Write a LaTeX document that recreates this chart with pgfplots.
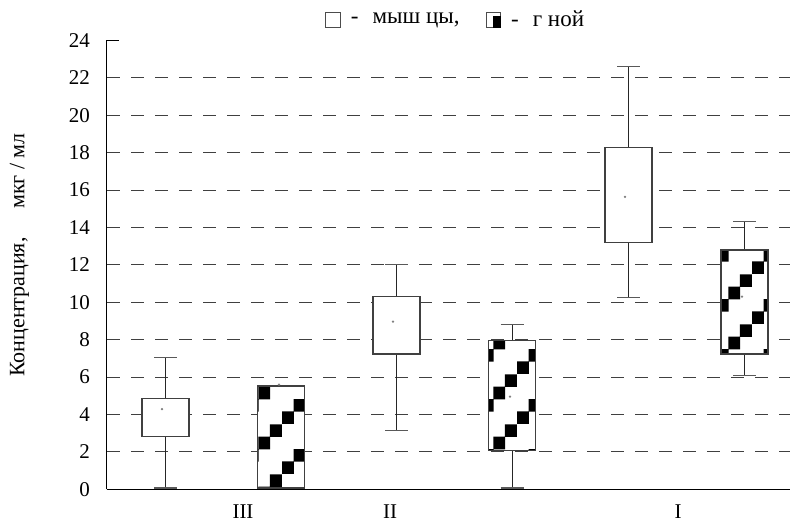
\documentclass[border=0pt]{standalone}
\usepackage{pgfplots}
\pgfplotsset{compat=1.18}
\usetikzlibrary{patterns}
\usepackage{fontspec}
\setmainfont{Liberation Serif}

\pgfdeclarepatternformonly{checkdiag}{\pgfpointorigin}{\pgfqpoint{23.5pt}{25pt}}{\pgfqpoint{23.5pt}{25pt}}{%
 \pgfpathrectangle{\pgfqpoint{0pt}{0pt}}{\pgfqpoint{6pt}{6.4pt}}%
 \pgfpathrectangle{\pgfqpoint{5.875pt}{6.25pt}}{\pgfqpoint{6pt}{6.4pt}}%
 \pgfpathrectangle{\pgfqpoint{11.75pt}{12.5pt}}{\pgfqpoint{6pt}{6.4pt}}%
 \pgfpathrectangle{\pgfqpoint{17.625pt}{18.75pt}}{\pgfqpoint{6pt}{6.4pt}}%
 \pgfusepath{fill}}

\pgfplotsset{
 whisk/.style={forget plot, black!85, line width=0.5pt},
 cap/.style={forget plot, black!65, line width=0.6pt},
 wfill/.style={forget plot, draw=black!75, line width=0.6pt, fill=white},
 cfill/.style={forget plot, draw=black!75, line width=0.6pt, preaction={fill=white}, pattern=checkdiag},
}
% #1 position, #2 lower whisker, #3 lower quartile, #4 upper quartile, #5 upper whisker, #6 box style
\newcommand{\boxitem}[6]{%
 \pgfmathsetmacro{\bxl}{#1-23.5}\pgfmathsetmacro{\bxr}{#1+23.5}%
 \pgfmathsetmacro{\cpl}{#1-11.5}\pgfmathsetmacro{\cpr}{#1+11.5}%
 \addplot[whisk] coordinates {(#1,#2) (#1,#3)};
 \addplot[whisk] coordinates {(#1,#4) (#1,#5)};
 \addplot[cap] coordinates {(\cpl,#2) (\cpr,#2)};
 \addplot[cap] coordinates {(\cpl,#5) (\cpr,#5)};
 \addplot[#6] coordinates {(\bxl,#3) (\bxr,#3) (\bxr,#4) (\bxl,#4)} -- cycle;
}

\begin{document}
\begin{tikzpicture}
\useasboundingbox (-53.5pt,-17.3pt) rectangle (342.5pt,244.7pt);
\begin{axis}[
 scale only axis, width=341.5pt, height=224.5pt,
 xmin=107, xmax=790, ymin=0, ymax=24,
 axis x line*=bottom, axis y line*=left,
 axis line style={black, line width=0.5pt},
 ytick={0,2,...,24},
 tick align=inside, major tick length=6pt,
 y tick style={black, line width=0.5pt},
 xtick={243,390,678}, xticklabels={III,II,I},
 x tick style={draw=none},
 extra y ticks={2,4,...,22}, extra y tick labels={},
 extra y tick style={grid=major, major tick length=0pt},
 grid style={black!75, line width=0.5pt, dash pattern=on 6.5pt off 5.5pt},
 /pgf/number format/assume math mode=true,
 tick label style={font=\fontsize{10.5}{12}\selectfont},
 yticklabel style={xshift=-5pt},
 xticklabel style={yshift=-4pt},
 ylabel={Концентрация,\hspace{1.3em}мкг / мл},
 ylabel style={at={(axis description cs:-0.128,0.522)}, anchor=center, font=\fontsize{11}{13}\selectfont},
 legend style={at={(rel axis cs:0.512,1.046)}, anchor=center, draw=none, fill=none,
   legend columns=2, font=\fontsize{11.5}{13}\selectfont,
   /tikz/every even column/.append style={column sep=11pt}},
 legend cell align=left,
]
\addlegendimage{legend image code/.code={\draw[black!70, fill=white] (0pt,-3.7pt) rectangle (7.4pt,3.7pt);}}
\addlegendentry{\hspace{3pt}-\hspace{7pt}мыш цы,}
\addlegendimage{legend image code/.code={\draw[black!70, fill=white] (0pt,-3.7pt) rectangle (7.4pt,3.7pt); \fill[black] (3.8pt,-3.7pt) rectangle (7.4pt,1.9pt);}}
\addlegendentry{\hspace{3pt}-\hspace{7pt}г ной}

% group III
\boxitem{165.5}{0.07}{2.84}{4.85}{7.04}{wfill}
\boxitem{281}{0.07}{0.07}{5.53}{5.53}{cfill}
% group II
\boxitem{396.5}{3.15}{7.24}{10.3}{12.0}{wfill}
\boxitem{512}{0.07}{2.08}{7.94}{8.8}{cfill}
% group I
\boxitem{628.5}{10.25}{13.2}{18.27}{22.6}{wfill}
\boxitem{744.5}{6.08}{7.24}{12.8}{14.3}{cfill}
% mean dots
\addplot[forget plot, only marks, mark=*, mark size=0.35pt, gray] coordinates {
 (162,4.29) (279,5.6) (393,8.97) (510,4.96) (625,15.64) (742,10.3)};
\end{axis}
\end{tikzpicture}
\end{document}
